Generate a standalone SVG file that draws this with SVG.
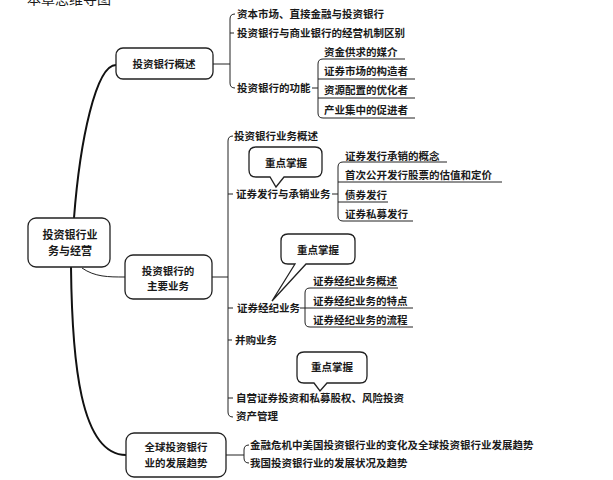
<svg xmlns="http://www.w3.org/2000/svg" width="613" height="480" viewBox="0 0 613 480">
<style>
text{font-family:"Noto Sans CJK SC","Noto Sans CJK TC",sans-serif;font-size:10.5px;font-weight:bold;fill:#1a1a1a}
.c{text-anchor:middle}
.n{font-size:11px}
.box{fill:#fff;stroke:#222;stroke-width:1.3}
.ln{fill:none;stroke:#222;stroke-width:1}
.main{fill:none;stroke:#111;stroke-width:2}
.title{font-size:14px;font-weight:normal}
</style>
<rect width="613" height="480" fill="#fff"/>
<text class="title" x="27" y="4">本章思维导图</text>

<g id="connectors">
<path class="main" d="M116,65 C96,65 80,140 74,218"/>
<path class="main" d="M71,267 C72,360 80,455 126,455"/>
<path class="ln" stroke-width="1.3" d="M82,268 C95,277 108,277 125,277"/>
<!-- section 1 -->
<path class="ln" d="M213,64 H230"/>
<path class="ln" d="M235,14 Q230,14 230,19 V83 Q230,88 235,88"/>
<path class="ln" d="M230,33 H234"/>
<path class="ln" d="M312,88 H318"/>
<path class="ln" d="M405,59 H323 Q318,59 318,64 V113 Q318,118 323,118 H415"/>
<path class="ln" d="M318,79 H415 M318,98 H415"/>
<!-- section 2 -->
<path class="ln" d="M212,277 H228"/>
<path class="ln" d="M233,136 Q228,136 228,141 V412 Q228,417 233,417"/>
<path class="ln" d="M228,194 H233 M228,308 H233 M228,340 H232 M228,398 H233"/>
<path class="ln" d="M332,194 H338"/>
<path class="ln" d="M447,162 H343 Q338,162 338,167 V216 Q338,221 343,221 H413"/>
<path class="ln" d="M338,182 H502 M338,202 H388"/>
<path class="ln" d="M300,308 H305"/>
<path class="ln" d="M398,288 H310 Q305,288 305,293 V322 Q305,327 310,327 H413"/>
<path class="ln" d="M305,308 H413"/>
<!-- section 3 -->
<path class="ln" d="M226,455 H244"/>
<path class="ln" d="M249,445 Q244,445 244,450 V458 Q244,463 249,463"/>
</g>

<g id="root">
<rect class="box" x="28" y="218" width="82" height="49" rx="8"/>
<text class="c n" x="70" y="239">投资银行业</text>
<text class="c n" x="70" y="255">务与经营</text>
</g>

<g id="node-overview">
<rect class="box" x="116" y="48" width="97" height="31" rx="7"/>
<text class="c" x="164" y="68">投资银行概述</text>
<text x="237" y="18">资本市场、直接金融与投资银行</text>
<text x="237" y="37">投资银行与商业银行的经营机制区别</text>
<text x="237" y="92">投资银行的功能</text>
<text x="324" y="56">资金供求的媒介</text>
<text x="324" y="75">证券市场的构造者</text>
<text x="324" y="94">资源配置的优化者</text>
<text x="324" y="114">产业集中的促进者</text>
</g>

<g id="node-business">
<rect class="box" x="125" y="255" width="87" height="44" rx="8"/>
<text class="c" x="168" y="275">投资银行的</text>
<text class="c" x="168" y="290">主要业务</text>
<text x="234" y="140">投资银行业务概述</text>
<text x="236" y="198">证券发行与承销业务</text>
<text x="345" y="160">证券发行承销的概念</text>
<text x="345" y="179">首次公开发行股票的估值和定价</text>
<text x="345" y="199">债券发行</text>
<text x="345" y="218">证券私募发行</text>
<text x="237" y="312">证券经纪业务</text>
<text x="313" y="285">证券经纪业务概述</text>
<text x="313" y="305">证券经纪业务的特点</text>
<text x="313" y="324">证券经纪业务的流程</text>
<text x="235" y="344">并购业务</text>
<text x="236" y="402">自营证券投资和私募股权、风险投资</text>
<text x="236" y="420">资产管理</text>
</g>

<g id="callout-1">
<path class="box" d="M256,147 H315 Q322,147 322,154 V170 Q322,177 315,177 H284 L276,187 L270,177 H256 Q249,177 249,170 V154 Q249,147 256,147 Z"/>
<text class="c" x="286" y="167">重点掌握</text>
</g>
<g id="callout-2">
<path class="box" d="M288,234 H348 Q355,234 355,241 V257 Q355,264 348,264 H306 L272,301 L295,264 H288 Q281,264 281,257 V241 Q281,234 288,234 Z"/>
<text class="c" x="318" y="254">重点掌握</text>
</g>
<g id="callout-3">
<path class="box" d="M304,352 H360 Q367,352 367,359 V376 Q367,383 360,383 H327 L320,391 L314,383 H304 Q297,383 297,376 V359 Q297,352 304,352 Z"/>
<text class="c" x="332" y="371">重点掌握</text>
</g>

<g id="node-trend">
<rect class="box" x="126" y="433" width="100" height="44" rx="8"/>
<text class="c" x="176" y="451">全球投资银行</text>
<text class="c" x="176" y="467">业的发展趋势</text>
<text x="250" y="449">金融危机中美国投资银行业的变化及全球投资银行业发展趋势</text>
<text x="250" y="467">我国投资银行业的发展状况及趋势</text>
</g>
</svg>
